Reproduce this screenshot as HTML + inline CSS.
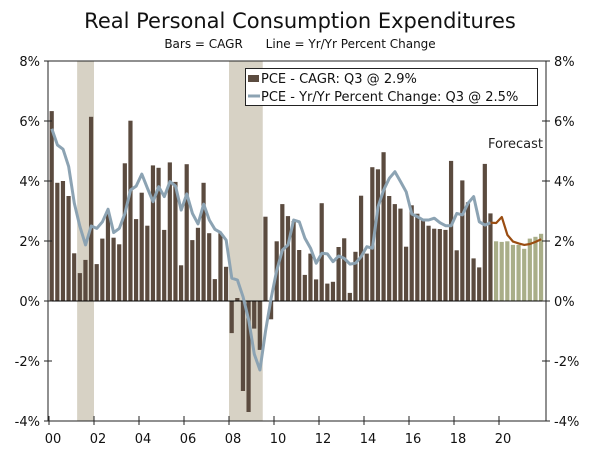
<!DOCTYPE html>
<html><head><meta charset="utf-8"><style>
body{margin:0;background:#fff;}
svg text{font-family:"DejaVu Sans","Liberation Sans",sans-serif;}
</style></head><body>
<svg id="c" width="600" height="457" xmlns="http://www.w3.org/2000/svg">
<text x="300" y="28" text-anchor="middle" font-size="21" fill="#111">Real Personal Consumption Expenditures</text>
<text x="300" y="48" text-anchor="middle" font-size="12" fill="#111" style="white-space:pre">Bars = CAGR      Line = Yr/Yr Percent Change</text>
<g id="plot"></g>
</svg>
<script>
const cagr=[6.33,3.94,4.0,3.5,1.59,0.93,1.37,6.14,1.23,2.08,2.92,2.11,1.89,4.59,6.01,2.73,3.61,2.51,4.52,4.44,2.37,4.62,3.97,1.19,4.56,2.03,2.44,3.94,2.26,0.73,2.26,1.14,-1.07,0.1,-3.0,-3.7,-0.92,-1.63,2.81,-0.61,1.99,3.23,2.83,2.66,1.7,0.87,1.58,0.72,3.26,0.58,0.64,1.8,2.09,0.27,1.64,3.51,1.58,4.46,4.39,4.96,3.5,3.23,3.08,1.81,3.19,2.91,2.7,2.51,2.41,2.4,2.37,4.67,1.69,4.02,3.29,1.42,1.12,4.57,2.92];
const fcstBars=[1.99,1.97,1.99,1.87,1.87,1.74,2.08,2.14,2.24];
const yoy=[5.74,5.2,5.06,4.48,3.26,2.48,1.87,2.5,2.42,2.64,3.06,2.28,2.42,2.92,3.7,3.83,4.23,3.76,3.31,3.81,3.48,3.98,3.83,3.03,3.57,2.92,2.57,3.23,2.7,2.39,2.28,2.03,0.76,0.7,0.14,-0.63,-1.77,-2.3,-1.0,0.1,1.03,1.7,1.87,2.7,2.64,2.09,1.76,1.26,1.59,1.57,1.31,1.5,1.42,1.23,1.26,1.48,1.81,1.76,3.14,3.7,4.09,4.31,3.98,3.64,2.9,2.81,2.7,2.7,2.76,2.61,2.51,2.51,2.92,2.87,3.26,3.48,2.64,2.53,2.61];
const fcstLine=[2.61,2.6,2.8,2.2,1.98,1.92,1.87,1.9,1.97,2.06];
const yTicks=[8,6,4,2,0,-2,-4];
const xYears=["00","02","04","06","08","10","12","14","16","18","20"];
const recessions=[[2001.25,2002.0],[2008.0,2009.5]];

const NS="http://www.w3.org/2000/svg";
const L=48,R=546,T=61,B=421,X0=49,QW=5.625;
const y=v=>301-(v*30);
const xq=i=>X0+i*QW;
const xt=yr=>X0+(yr-2000)*4*QW;
const g=document.getElementById('plot');
function mk(t,a){const e=document.createElementNS(NS,t);for(const k in a)e.setAttribute(k,a[k]);g.appendChild(e);return e;}

recessions.forEach(r=>{
 const e=mk('rect',{x:xt(r[0]),y:T,width:xt(r[1])-xt(r[0]),height:B-T,fill:'#d7d2c5'});
 
 
});
cagr.forEach((v,i)=>{
 const e=mk('rect',{x:xq(i)+0.6,y:Math.min(y(v),y(0)),width:4.2,height:Math.abs(y(v)-y(0)),fill:'#5b4b3f'});
 
 
});
fcstBars.forEach((v,j)=>{
 const i=cagr.length+j;
 const e=mk('rect',{x:xq(i)+0.6,y:y(v),width:4.2,height:y(0)-y(v),fill:'#a9ae88'});
 
 
});
let zl=mk('line',{x1:L,x2:R,y1:y(0),y2:y(0),stroke:'#000','stroke-width':1});


let pl=mk('polyline',{points:yoy.map((v,i)=>(xq(i)+2.8)+','+y(v)).join(' '),fill:'none',stroke:'#8ca3b3','stroke-width':3,'stroke-linejoin':'round'});


let fl=mk('polyline',{points:fcstLine.map((v,j)=>(xq(yoy.length-1+j)+2.8)+','+y(v)).join(' '),fill:'none',stroke:'#9a4d12','stroke-width':2.2,'stroke-linejoin':'round'});


let fr=mk('path',{d:`M${L},${T}H${R}M${L},${T}V${B}H${R}V${T}`,stroke:'#222',fill:'none','stroke-width':1});


yTicks.forEach(v=>{
 mk('line',{x1:L-4,x2:L+4,y1:y(v),y2:y(v),stroke:'#222'});
 mk('line',{x1:R-4,x2:R+4,y1:y(v),y2:y(v),stroke:'#222'});
 const t1=mk('text',{x:L-8,y:y(v)+5,'text-anchor':'end','font-size':13,fill:'#111'});t1.textContent=v+'%';
 
 
 const t2=mk('text',{x:R+8,y:y(v)+5,'font-size':13,fill:'#111'});t2.textContent=v+'%';
 
 
});
xYears.forEach((s,k)=>{
 const xx=xt(2000+2*k);
 mk('line',{x1:xx,x2:xx,y1:B-5,y2:B+4,stroke:'#222'});
 const t=mk('text',{x:xx+4,y:B+22,'text-anchor':'middle','font-size':13,fill:'#111'});t.textContent=s;
 
 
});
let ft=mk('text',{x:543,y:148,'text-anchor':'end','font-size':13,fill:'#222'});ft.textContent='Forecast';


let lb=mk('rect',{x:245.5,y:68.5,width:292,height:37,fill:'#fff',stroke:'#222'});


mk('rect',{x:248,y:75,width:11,height:7,fill:'#5b4b3f'});
mk('line',{x1:248,x2:260,y1:96,y2:96,stroke:'#8ca3b3','stroke-width':3});
let l1=mk('text',{x:261,y:83,'font-size':13,fill:'#111'});l1.textContent='PCE - CAGR: Q3 @ 2.9%';


let l2=mk('text',{x:261,y:101,'font-size':13,fill:'#111'});l2.textContent='PCE - Yr/Yr Percent Change: Q3 @ 2.5%';


</script>
</body></html>
